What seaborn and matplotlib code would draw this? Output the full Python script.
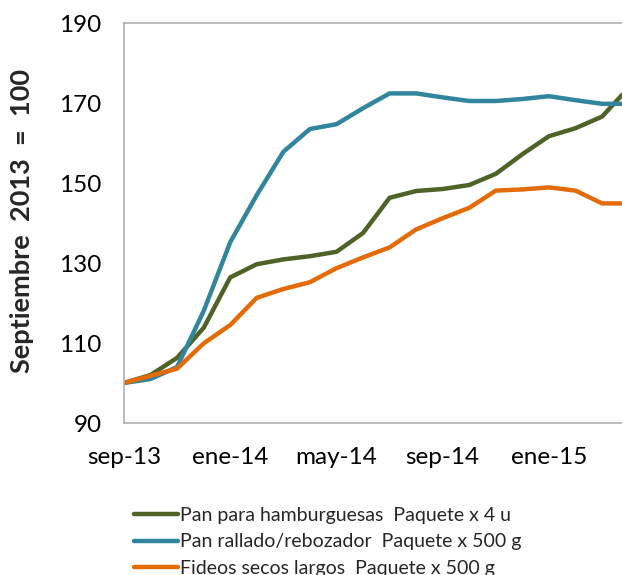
import pandas as pd
import matplotlib.pyplot as plt
import seaborn as sns

# meses desde sep-13 (0) hasta abr-15 (19)
meses = list(range(20))
tick_pos = [0, 4, 8, 12, 16]
tick_labels = ['sep-13', 'ene-14', 'may-14', 'sep-14', 'ene-15']

pan_hamburguesas = [100, 102, 106.3, 113.8, 126.4, 129.7, 130.9, 131.7, 132.8, 137.5,
                    146.3, 148, 148.5, 149.5, 152.3, 157.2, 161.7, 163.7, 166.6, 173.8]
pan_rallado = [100, 101, 104, 118, 135.2, 147, 157.8, 163.5, 164.7, 168.7,
               172.4, 172.4, 171.4, 170.5, 170.5, 171, 171.7, 170.7, 169.8, 169.8]
fideos = [100, 101.8, 103.6, 109.9, 114.5, 121.3, 123.5, 125.2, 128.7, 131.4,
          133.9, 138.4, 141.2, 143.8, 148.1, 148.4, 148.9, 148.1, 144.9, 144.9]

series = ['Pan para hamburguesas  Paquete x 4 u',
          'Pan rallado/rebozador  Paquete x 500 g',
          'Fideos secos largos  Paquete x 500 g']
colores = ['#4f6228', '#31859c', '#e36c09']

df = pd.concat([
    pd.DataFrame({'mes': meses, 'valor': pan_hamburguesas, 'serie': series[0]}),
    pd.DataFrame({'mes': meses, 'valor': pan_rallado, 'serie': series[1]}),
    pd.DataFrame({'mes': meses, 'valor': fideos, 'serie': series[2]}),
])

sns.set_style('white')
plt.rcParams['font.family'] = ['Lato', 'DejaVu Sans']

fig = plt.figure(figsize=(6.22, 5.75), dpi=100)
ax = fig.add_axes([124 / 622, 152 / 575, 498 / 622, 400 / 575])

sns.lineplot(data=df, x='mes', y='valor', hue='serie', palette=colores,
             linewidth=3.2, ax=ax, legend=False)
for ln in ax.lines:
    ln.set_solid_capstyle('butt')

ax.set_xlim(0, 18.75)
ax.set_ylim(90, 190)
ax.set_yticks([90, 110, 130, 150, 170, 190])
ax.set_xticks(tick_pos)
ax.set_xticklabels(tick_labels)
ax.tick_params(axis='both', labelsize=17.5, colors='#a0a0a0', labelcolor='black',
               direction='out', length=6, width=1)
ax.tick_params(axis='y', pad=10)
ax.tick_params(axis='x', pad=11)
ax.set_xlabel('')
ax.set_ylabel('Septiembre  2013  =  100', fontsize=19.5, fontweight='bold')
ax.yaxis.set_label_coords(-0.18, 0.505)

for s in ['left', 'bottom', 'top']:
    ax.spines[s].set_color('#b0b0b0')
    ax.spines[s].set_linewidth(1.2)
ax.spines['right'].set_visible(False)

handles = [plt.Line2D([], [], color=c, linewidth=3.2) for c in colores]
fig.legend(handles, series, loc='upper left', bbox_to_anchor=(126 / 622, 1 - 499 / 575),
           frameon=False, fontsize=14, handlelength=2.25, handletextpad=0.12,
           labelspacing=0.5, borderaxespad=0)

fig.savefig('out.png', dpi=100)
